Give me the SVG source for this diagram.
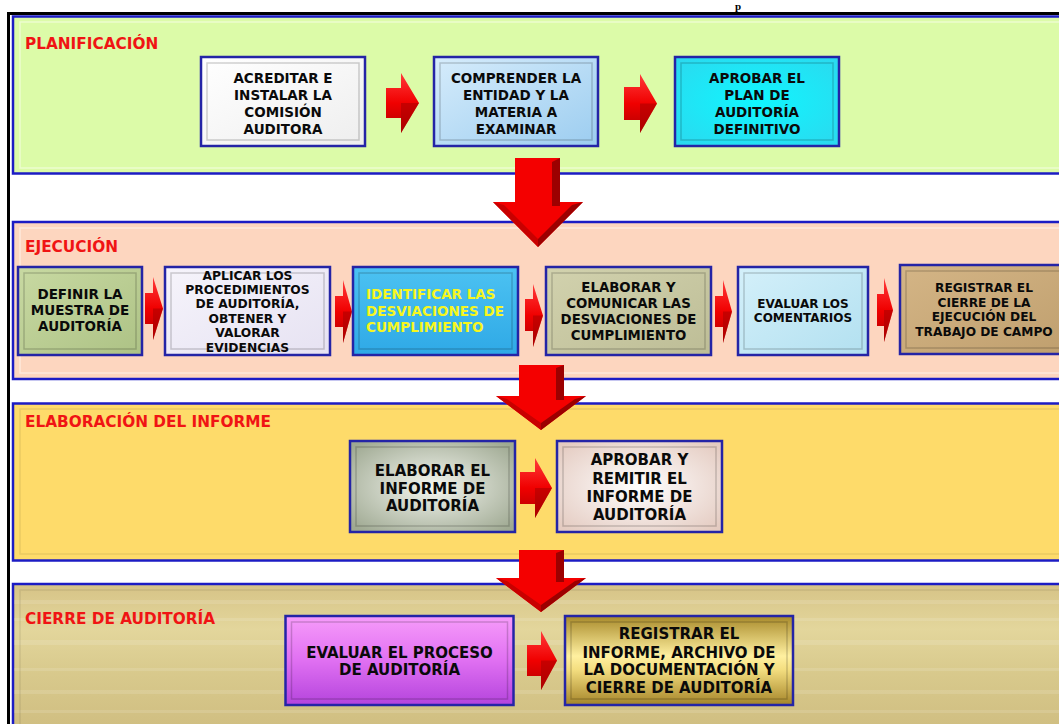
<svg xmlns="http://www.w3.org/2000/svg" width="1059" height="724" viewBox="0 0 1059 724">
<style>
.panel{stroke:#1c1cc4;stroke-width:2.5}
.pin{fill:none;stroke:#ffffff;stroke-opacity:.45;stroke-width:1.5}
.pin2{fill:none;stroke:#000;stroke-opacity:.08;stroke-width:1.5}
.box{stroke:#2424a6;stroke-width:2.5}
.bev{fill:none;stroke:#000;stroke-opacity:.18;stroke-width:1.5}
.t{font-family:"DejaVu Sans","Liberation Sans",sans-serif;font-weight:bold;text-anchor:middle;fill:#0a0a0a}
.h{font-family:"DejaVu Sans","Liberation Sans",sans-serif;font-weight:bold;fill:#f01414;font-size:15.3px}
.sa{fill:url(#gsa)}
.sad{fill:#a80000;fill-opacity:.55}
.ba{fill:#f40000}
.bad{fill:#9c0000}
.bam{fill:#c80000}
</style>
<defs>
<linearGradient id="gsa" x1="0" y1="0" x2="0" y2="1"><stop offset="0" stop-color="#ff3a3a"/><stop offset=".5" stop-color="#f00000"/><stop offset="1" stop-color="#b00000"/></linearGradient>
<linearGradient id="gp1" x1="0" y1="0" x2="1" y2="1"><stop offset="0" stop-color="#ffffff"/><stop offset="1" stop-color="#eeeeee"/></linearGradient>
<linearGradient id="gp2" x1="0" y1="0" x2="1" y2="1"><stop offset="0" stop-color="#d6ecfb"/><stop offset="1" stop-color="#9ccdf0"/></linearGradient>
<radialGradient id="gp3" cx=".5" cy=".5" r=".7"><stop offset="0" stop-color="#10f6ff"/><stop offset="1" stop-color="#2cd8ee"/></radialGradient>
<linearGradient id="ge1" x1="0" y1="0" x2="1" y2="1"><stop offset="0" stop-color="#c8d9a2"/><stop offset="1" stop-color="#adc285"/></linearGradient>
<linearGradient id="ge2" x1="0" y1="0" x2="1" y2="1"><stop offset="0" stop-color="#f6f4fb"/><stop offset="1" stop-color="#e6e2f2"/></linearGradient>
<linearGradient id="ge3" x1="0" y1="0" x2="0" y2="1"><stop offset="0" stop-color="#4cc2f2"/><stop offset="1" stop-color="#2fa9e6"/></linearGradient>
<linearGradient id="ge4" x1="0" y1="0" x2="1" y2="1"><stop offset="0" stop-color="#d2d2ae"/><stop offset="1" stop-color="#bdbd96"/></linearGradient>
<linearGradient id="ge5" x1="0" y1="0" x2="1" y2="1"><stop offset="0" stop-color="#d4f0fa"/><stop offset="1" stop-color="#b2e0f0"/></linearGradient>
<linearGradient id="ge6" x1="0" y1="0" x2="1" y2="1"><stop offset="0" stop-color="#d4b586"/><stop offset="1" stop-color="#bf9f6e"/></linearGradient>
<radialGradient id="gl1" cx=".5" cy=".5" r=".65"><stop offset="0" stop-color="#f4f6f0"/><stop offset="1" stop-color="#9fa992"/></radialGradient>
<radialGradient id="gl2" cx=".5" cy=".5" r=".65"><stop offset="0" stop-color="#ffffff"/><stop offset="1" stop-color="#e4cbc1"/></radialGradient>
<linearGradient id="gc1" x1="0" y1="0" x2="0" y2="1"><stop offset="0" stop-color="#f79cfa"/><stop offset=".5" stop-color="#e070f2"/><stop offset="1" stop-color="#b444dc"/></linearGradient>
<linearGradient id="gc2" x1="0" y1="0" x2="0" y2="1"><stop offset="0" stop-color="#a88a2a"/><stop offset=".45" stop-color="#fff0a0"/><stop offset=".6" stop-color="#f4de80"/><stop offset="1" stop-color="#a48428"/></linearGradient>
<linearGradient id="gk" x1="0" y1="0" x2="0" y2="1"><stop offset="0" stop-color="#d6c386"/><stop offset=".3" stop-color="#e3d69c"/><stop offset=".6" stop-color="#d8c98c"/><stop offset="1" stop-color="#cfbd80"/></linearGradient>
</defs>

<rect width="1059" height="724" fill="#ffffff"/>
<text x="735" y="10" font-family="Liberation Serif, serif" font-weight="bold" font-size="11" fill="#000">p</text>

<g id="panel-planificacion">
<rect class="panel" x="13" y="16.5" width="1060" height="157" fill="#dcfba8"/>
<rect class="pin" x="20" y="22" width="1050" height="146"/>
<text class="h" x="25" y="48.5">PLANIFICACIÓN</text>
</g>
<g id="panel-ejecucion">
<rect class="panel" x="13" y="222" width="1060" height="157" fill="#fdd6bf"/>
<rect class="pin" x="20" y="228" width="1050" height="145"/>
<text class="h" x="25" y="252">EJECUCIÓN</text>
</g>
<g id="panel-elaboracion">
<rect class="panel" x="13" y="403.5" width="1060" height="157" fill="#fedb6a"/>
<rect class="pin2" x="20" y="409" width="1050" height="145"/>
<text class="h" x="25" y="427">ELABORACIÓN DEL INFORME</text>
</g>
<g id="panel-cierre">
<rect class="panel" x="13" y="584" width="1060" height="150" fill="url(#gk)"/>
<g fill="#fff" fill-opacity=".12">
<rect x="14" y="600" width="1058" height="4"/>
<rect x="14" y="618" width="1058" height="3"/>
<rect x="14" y="640" width="1058" height="5"/>
<rect x="14" y="668" width="1058" height="3"/>
<rect x="14" y="690" width="1058" height="4"/>
<rect x="14" y="710" width="1058" height="3"/>
</g>
<rect class="pin2" x="20" y="590" width="1050" height="140"/>
<text class="h" x="25" y="624">CIERRE DE AUDITORÍA</text>
</g>

<path d="M8.5,724 V13.5 H1059" fill="none" stroke="#000" stroke-width="3"/>

<g id="connectors">
<g id="down1">
<polygon class="ba" points="515,158 560,158 560,202 583,202 538,247 493,202 515,202"/>
<polygon class="bad" points="552,162 560,158 560,206 552,206"/>
<polygon class="bad" points="583,202 538,247 538,239 572,205"/>
<polygon class="bam" points="493,202 538,247 538,239 504,205"/>
</g>
<g id="down2">
<polygon class="ba" points="519,365 564,365 564,396 586,396 541,430 496,396 519,396"/>
<polygon class="bad" points="556,368 564,365 564,400 556,400"/>
<polygon class="bad" points="586,396 541,430 541,423 575,399"/>
<polygon class="bam" points="496,396 541,430 541,423 507,399"/>
</g>
<g id="down3">
<polygon class="ba" points="519,550 564,550 564,578 586,578 541,612 496,578 519,578"/>
<polygon class="bad" points="556,553 564,550 564,582 556,582"/>
<polygon class="bad" points="586,578 541,612 541,605 575,581"/>
<polygon class="bam" points="496,578 541,612 541,605 507,581"/>
</g>
<polygon class="sa" points="386,88 401,88 401,73 419,103 401,133 401,118 386,118"/>
<polygon class="sad" points="401,103 419,103 401,133"/>
<polygon class="sa" points="624,87 640,87 640,74 657,103.5 640,133 640,120 624,120"/>
<polygon class="sad" points="640,103.5 657,103.5 640,133"/>
<polygon class="sa" points="145,293 153,293 153,277 163,308.5 153,340 153,324 145,324"/>
<polygon class="sad" points="153,308.5 163,308.5 153,340"/>
<polygon class="sa" points="335,296 343,296 343,280 352,311.5 343,343 343,327 335,327"/>
<polygon class="sad" points="343,311.5 352,311.5 343,343"/>
<polygon class="sa" points="525,299 533,299 533,284 543,315.5 533,347 533,331 525,331"/>
<polygon class="sad" points="533,315.5 543,315.5 533,347"/>
<polygon class="sa" points="715,296 723,296 723,280 732,311.5 723,343 723,327 715,327"/>
<polygon class="sad" points="723,311.5 732,311.5 723,343"/>
<polygon class="sa" points="877,294 884,294 884,278 893,310 884,342 884,326 877,326"/>
<polygon class="sad" points="884,310 893,310 884,342"/>
<polygon class="sa" points="520,472 535,472 535,458 552,488 535,518 535,504 520,504"/>
<polygon class="sad" points="535,488 552,488 535,518"/>
<polygon class="sa" points="527,645 541,645 541,631 557,660.5 541,690 541,676 527,676"/>
<polygon class="sad" points="541,660.5 557,660.5 541,690"/>
</g>

<g id="acreditar">
<rect class="box" x="201" y="57" width="164" height="89" fill="url(#gp1)"/>
<rect class="bev" x="207" y="63" width="152" height="77"/>
<text class="t" font-size="13.5"><tspan x="283" y="83">ACREDITAR E</tspan><tspan x="283" y="100">INSTALAR LA</tspan><tspan x="283" y="117">COMISIÓN</tspan><tspan x="283" y="134">AUDITORA</tspan></text>
</g>
<g id="comprender">
<rect class="box" x="434" y="57" width="164" height="89" fill="url(#gp2)"/>
<rect class="bev" x="440" y="63" width="152" height="77"/>
<text class="t" font-size="13.5"><tspan x="516" y="83">COMPRENDER LA</tspan><tspan x="516" y="100">ENTIDAD Y LA</tspan><tspan x="516" y="117">MATERIA A</tspan><tspan x="516" y="134">EXAMINAR</tspan></text>
</g>
<g id="aprobar-plan">
<rect class="box" x="675" y="57" width="164" height="89" fill="url(#gp3)"/>
<rect class="bev" x="681" y="63" width="152" height="77"/>
<text class="t" font-size="13.5"><tspan x="757" y="83">APROBAR EL</tspan><tspan x="757" y="100">PLAN DE</tspan><tspan x="757" y="117">AUDITORÍA</tspan><tspan x="757" y="134">DEFINITIVO</tspan></text>
</g>

<g id="definir">
<rect class="box" x="18" y="267" width="124" height="88" fill="url(#ge1)"/>
<rect class="bev" x="24" y="273" width="112" height="76"/>
<text class="t" font-size="13.5"><tspan x="80" y="299">DEFINIR LA</tspan><tspan x="80" y="315">MUESTRA DE</tspan><tspan x="80" y="331">AUDITORÍA</tspan></text>
</g>
<g id="aplicar">
<rect class="box" x="165" y="267" width="165" height="88" fill="url(#ge2)"/>
<rect class="bev" x="171" y="273" width="153" height="76"/>
<text class="t" font-size="12.3"><tspan x="247.5" y="279.5">APLICAR LOS</tspan><tspan x="247.5" y="293.5">PROCEDIMIENTOS</tspan><tspan x="247.5" y="308">DE AUDITORÍA,</tspan><tspan x="247.5" y="322.5">OBTENER Y</tspan><tspan x="247.5" y="337">VALORAR</tspan><tspan x="247.5" y="352">EVIDENCIAS</tspan></text>
</g>
<g id="identificar">
<rect class="box" x="353" y="267" width="165" height="88" fill="url(#ge3)"/>
<rect class="bev" x="359" y="273" width="153" height="76"/>
<text class="t" font-size="13.5" style="text-anchor:start;fill:#f6f61e"><tspan x="366" y="298.5">IDENTIFICAR LAS</tspan><tspan x="366" y="316">DESVIACIONES DE</tspan><tspan x="366" y="332">CUMPLIMIENTO</tspan></text>
</g>
<g id="elaborar-comunicar">
<rect class="box" x="546" y="267" width="165" height="88" fill="url(#ge4)"/>
<rect class="bev" x="552" y="273" width="153" height="76"/>
<text class="t" font-size="13.3"><tspan x="628.5" y="292">ELABORAR Y</tspan><tspan x="628.5" y="307.5">COMUNICAR LAS</tspan><tspan x="628.5" y="323.5">DESVIACIONES DE</tspan><tspan x="628.5" y="339.5">CUMPLIMIENTO</tspan></text>
</g>
<g id="evaluar-comentarios">
<rect class="box" x="738" y="267" width="130" height="88" fill="url(#ge5)"/>
<rect class="bev" x="744" y="273" width="118" height="76"/>
<text class="t" font-size="12"><tspan x="803" y="307.5">EVALUAR LOS</tspan><tspan x="803" y="322">COMENTARIOS</tspan></text>
</g>
<g id="registrar-cierre">
<rect class="box" x="900" y="265" width="170" height="89" fill="url(#ge6)"/>
<rect class="bev" x="906" y="271" width="158" height="77"/>
<text class="t" font-size="12.2"><tspan x="984" y="291.5">REGISTRAR EL</tspan><tspan x="984" y="306.5">CIERRE DE LA</tspan><tspan x="984" y="320.5">EJECUCIÓN DEL</tspan><tspan x="984" y="335.5">TRABAJO DE CAMPO</tspan></text>
</g>

<g id="elaborar-informe">
<rect class="box" x="350" y="441" width="165" height="91" fill="url(#gl1)"/>
<rect class="bev" x="356" y="447" width="153" height="79"/>
<text class="t" font-size="15"><tspan x="432.5" y="475.5">ELABORAR EL</tspan><tspan x="432.5" y="494">INFORME DE</tspan><tspan x="432.5" y="511">AUDITORÍA</tspan></text>
</g>
<g id="aprobar-remitir">
<rect class="box" x="557" y="441" width="165" height="91" fill="url(#gl2)"/>
<rect class="bev" x="563" y="447" width="153" height="79"/>
<text class="t" font-size="15"><tspan x="639.5" y="465">APROBAR Y</tspan><tspan x="639.5" y="484">REMITIR EL</tspan><tspan x="639.5" y="502">INFORME DE</tspan><tspan x="639.5" y="519.5">AUDITORÍA</tspan></text>
</g>

<g id="evaluar-proceso">
<rect class="box" x="285.5" y="616" width="228" height="89" fill="url(#gc1)"/>
<rect class="bev" x="291.5" y="622" width="216" height="77"/>
<text class="t" font-size="15"><tspan x="399.5" y="658.2">EVALUAR EL PROCESO</tspan><tspan x="399.5" y="675.4">DE AUDITORÍA</tspan></text>
</g>
<g id="registrar-informe">
<rect class="box" x="565" y="616" width="228" height="89" fill="url(#gc2)"/>
<rect class="bev" x="571" y="622" width="216" height="77"/>
<text class="t" font-size="15"><tspan x="679" y="639.4">REGISTRAR EL</tspan><tspan x="679" y="658.2">INFORME, ARCHIVO DE</tspan><tspan x="679" y="675.4">LA DOCUMENTACIÓN Y</tspan><tspan x="679" y="693.4">CIERRE DE AUDITORÍA</tspan></text>
</g>
</svg>
